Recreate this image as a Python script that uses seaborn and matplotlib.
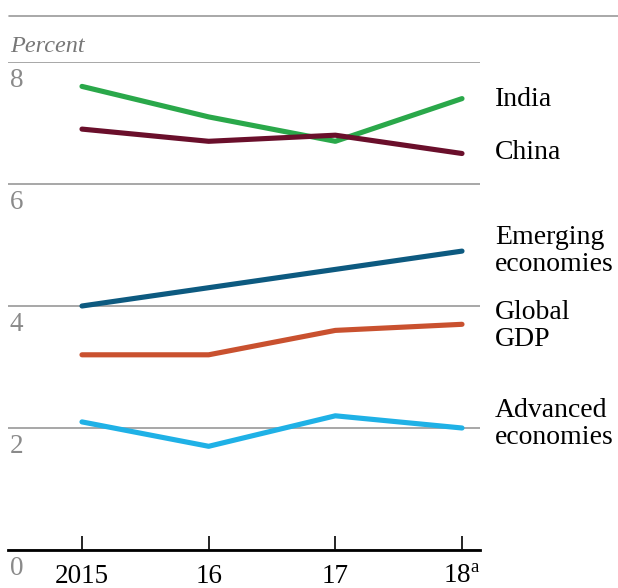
import pandas as pd
import seaborn as sns
import matplotlib.pyplot as plt
from matplotlib.lines import Line2D

# Données (lecture approximative du graphique)
YEARS = [2015, 2016, 2017, 2018]
YEAR_LABELS = ['2015', '16', '17', '18$^{\\mathrm{a}}$']
INDIA = [7.6, 7.1, 6.7, 7.4]
CHINA = [6.9, 6.7, 6.8, 6.5]
EMERGING = [4.0, 4.3, 4.6, 4.9]
GLOBAL = [3.2, 3.2, 3.6, 3.7]
ADVANCED = [2.1, 1.7, 2.2, 2.0]
SERIES = ['India', 'China', 'Emerging economies', 'Global GDP', 'Advanced economies']
LABELS = ['India', 'China', 'Emerging\neconomies', 'Global\nGDP', 'Advanced\neconomies']
Y_TICKS = [0, 2, 4, 6, 8]

COLORS = ['#2aa84a', '#6a0f2b', '#0d5a80', '#c9512f', '#1fb1e6']
LABEL_Y = [7.38, 6.52, 4.9, 3.67, 2.07]

df = pd.DataFrame({
    'year': YEARS * 5,
    'value': INDIA + CHINA + EMERGING + GLOBAL + ADVANCED,
    'series': [s for s in SERIES for _ in YEARS],
})

sns.set_style('white')
plt.rcParams['font.family'] = ['Liberation Serif', 'DejaVu Serif']
plt.rcParams['mathtext.fontset'] = 'custom'
plt.rcParams['mathtext.rm'] = 'Liberation Serif'

fig = plt.figure(figsize=(6.18, 5.88), dpi=100)
ax = fig.add_axes([8 / 618, 1 - 550 / 588, 472 / 618, 488 / 588])

sns.lineplot(data=df, x='year', y='value', hue='series', hue_order=SERIES,
             palette=COLORS, linewidth=3.7, legend=False, ax=ax, zorder=3)

ax.set_xlim(2014.416, 2018.142)
ax.set_ylim(0, 8)
ax.set_xticks(YEARS)
ax.set_xticklabels(YEAR_LABELS, fontsize=19.5, color='black')
ax.tick_params(axis='x', bottom=True, direction='in', length=10, width=1.2,
               color='black', pad=10)
ax.set_yticks(Y_TICKS)
ax.set_yticklabels([])
ax.tick_params(axis='y', length=0)
ax.grid(axis='y', color='#8f8f8f', linewidth=1.1)
ax.set_xlabel('')
ax.set_ylabel('')
for side in ['top', 'right', 'left']:
    ax.spines[side].set_visible(False)
ax.spines['bottom'].set_color('black')
ax.spines['bottom'].set_linewidth(2)
ax.spines['bottom'].set_zorder(4)

# étiquettes de l'axe y, sous chaque ligne de grille
for t in Y_TICKS:
    ax.text(2014.43, t - 0.1, str(t), fontsize=19.5, color='#8a8a8a', va='top', ha='left')
ax.text(2014.43, 8.08, 'Percent', fontsize=17.5, style='italic', color='#777777',
        va='bottom', ha='left')

# étiquettes des séries à droite
for lab, y in zip(LABELS, LABEL_Y):
    ax.text(2018.26, y, lab, fontsize=20, color='black', va='center', ha='left',
            linespacing=1.12, clip_on=False)

fig.add_artist(Line2D([9 / 618, 1], [1 - 16 / 588] * 2, color='#9a9a9a', linewidth=1.2))

plt.savefig('out.png', dpi=100)
